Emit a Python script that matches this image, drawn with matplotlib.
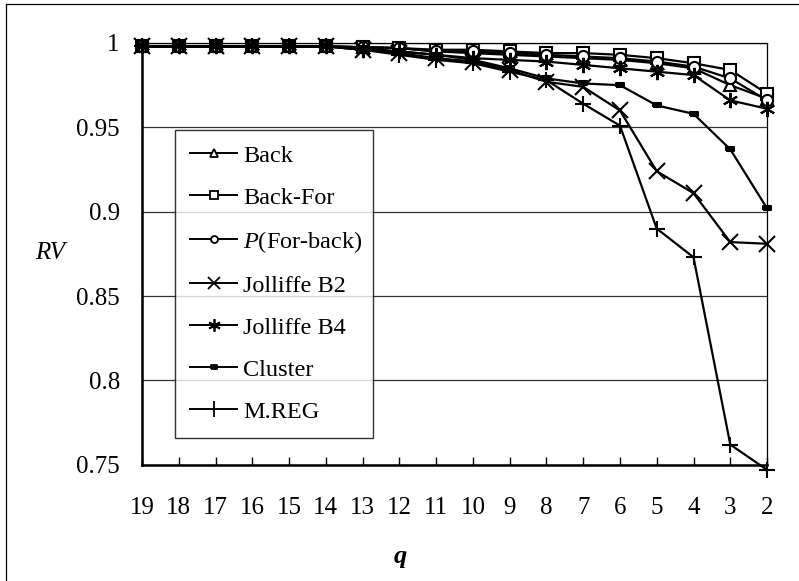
"""RV coefficient against number of retained variables q, for seven selection methods."""
import matplotlib
matplotlib.use("Agg")
import matplotlib.pyplot as plt
from matplotlib.lines import Line2D

plt.rcParams.update({
    "font.family": "serif",
    "font.serif": ["Liberation Serif", "DejaVu Serif"],
    "mathtext.fontset": "custom",
    "mathtext.rm": "Liberation Serif",
    "mathtext.it": "Liberation Serif:italic",
})

q = [19, 18, 17, 16, 15, 14, 13, 12, 11, 10, 9, 8, 7, 6, 5, 4, 3, 2]

back = [0.998, 0.998, 0.998, 0.998, 0.998, 0.998, 0.9975, 0.997, 0.995, 0.994,
        0.993, 0.992, 0.991, 0.990, 0.988, 0.985, 0.975, 0.967]
back_for = [0.998, 0.998, 0.998, 0.998, 0.998, 0.998, 0.9975, 0.997, 0.996, 0.996,
            0.995, 0.994, 0.994, 0.993, 0.991, 0.988, 0.984, 0.970]
p_for_back = [0.998, 0.998, 0.998, 0.998, 0.998, 0.998, 0.9975, 0.997, 0.995, 0.995,
              0.994, 0.993, 0.992, 0.991, 0.989, 0.986, 0.979, 0.966]
jolliffe_b2 = [0.998, 0.998, 0.998, 0.998, 0.998, 0.998, 0.996, 0.994, 0.991, 0.989,
               0.984, 0.977, 0.974, 0.960, 0.924, 0.911, 0.882, 0.881]
jolliffe_b4 = [0.998, 0.998, 0.998, 0.998, 0.998, 0.998, 0.996, 0.995, 0.993, 0.991,
               0.990, 0.989, 0.987, 0.985, 0.983, 0.981, 0.966, 0.961]
cluster = [0.998, 0.998, 0.998, 0.998, 0.998, 0.998, 0.997, 0.995, 0.993, 0.990,
           0.985, 0.979, 0.976, 0.975, 0.963, 0.958, 0.937, 0.902]
m_reg = [0.998, 0.998, 0.998, 0.998, 0.998, 0.998, 0.996, 0.993, 0.990, 0.988,
         0.983, 0.978, 0.964, 0.951, 0.890, 0.873, 0.762, 0.747]

labels = ["Back", "Back-For", r"$\mathit{P}$(For-back)", "Jolliffe B2",
          "Jolliffe B4", "Cluster", "M.REG"]

RECT = [(-1, -0.55), (1, -0.55), (1, 0.55), (-1, 0.55), (-1, -0.55)]
ASTER = (6, 2, 0)

# (series, marker, marker size in plot, size in legend, filled)
styles = [
    (back, "^", 8, 6, False),
    (back_for, "s", 9, 6, False),
    (p_for_back, "o", 8, 5, False),
    (jolliffe_b2, "x", 11, 8, False),
    (jolliffe_b4, ASTER, 11, 9, False),
    (cluster, RECT, 6, 5, True),
    (m_reg, "|", 12, 12, False),
]

fig = plt.figure(figsize=(7.99, 5.81), dpi=100)
ax = fig.add_axes([0.1777, 0.2, 0.7823, 0.726])

handles = []
for (vals, mk, ms, lms, filled), lab in zip(styles, labels):
    face = "black" if filled else "white"
    if mk in ("x", "|") or mk == ASTER:
        face = "black"
    ax.plot(q, vals, color="black", lw=1.6, marker=mk, ms=ms,
            mfc=face, mec="black", mew=1.5, clip_on=False, zorder=3)
    handles.append(Line2D([], [], color="black", lw=1.4, marker=mk, ms=lms,
                          mfc=face, mec="black", mew=1.3))

# M.REG also carries a horizontal cross bar in its marker
ax.plot(q, m_reg, ls="none", marker="_", ms=12, mec="black", mew=1.5,
        clip_on=False, zorder=3)

ax.set_xlim(19, 2)
ax.set_ylim(0.75, 1.0)
ax.set_xticks(q)
ax.set_xticklabels([str(v) for v in q])
ax.set_yticks([0.75, 0.8, 0.85, 0.9, 0.95, 1.0])
ax.set_yticklabels(["0.75", "0.8", "0.85", "0.9", "0.95", "1"])
ax.tick_params(axis="x", direction="in", length=6, width=1, pad=23, labelsize=18)
ax.tick_params(axis="y", length=0, pad=16, labelsize=18)
ax.yaxis.grid(True, color="#333333", lw=0.9)
ax.set_axisbelow(True)
for side in ("top", "right"):
    ax.spines[side].set_linewidth(0.9)
for side in ("left", "bottom"):
    ax.spines[side].set_linewidth(1.8)

ax.text(-0.147, 0.502, "RV", transform=ax.transAxes, fontsize=18,
        style="italic", ha="center", va="center")
fig.text(400 / 799, 1 - 557 / 581, "q", fontsize=19, style="italic",
         weight="bold", ha="center", va="center")

leg = ax.legend(handles, labels, loc="upper left",
                bbox_to_anchor=(0.0528, 0.794, 0.3168, 0.0), mode="expand",
                fontsize=17.5, frameon=True, fancybox=False, handlelength=1.95,
                handletextpad=0.22, labelspacing=0.82, borderpad=0.62,
                borderaxespad=0.0)
leg.get_frame().set_edgecolor("black")
leg.get_frame().set_linewidth(1.0)

# outer chart border (left and top edges)
fig.add_artist(Line2D([0.0075, 0.0075], [0, 0.993], color="black", lw=0.9,
                      transform=fig.transFigure))
fig.add_artist(Line2D([0.0075, 1.0], [0.993, 0.993], color="black", lw=0.9,
                      transform=fig.transFigure))

fig.savefig("out.png", dpi=100)
